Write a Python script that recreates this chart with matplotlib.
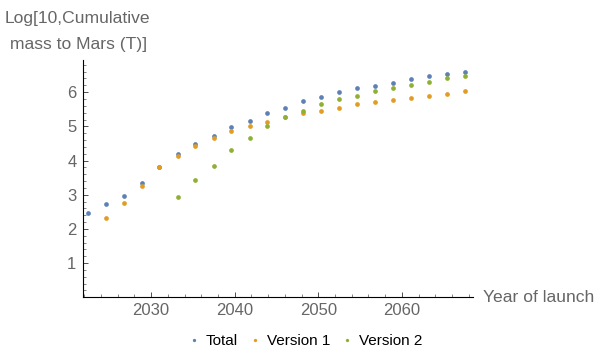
import matplotlib.pyplot as plt
from matplotlib.ticker import MultipleLocator

# launch windows (year) and log10 of cumulative mass to Mars (tonnes)
years = [2022.5, 2024.6, 2026.8, 2028.9, 2031.0, 2033.2, 2035.3, 2037.5,
         2039.6, 2041.8, 2043.9, 2046.0, 2048.2, 2050.3, 2052.5, 2054.6,
         2056.8, 2058.9, 2061.1, 2063.2, 2065.4, 2067.5]

total = [2.48, 2.72, 2.95, 3.33, 3.80, 4.19, 4.47, 4.73, 4.97, 5.17, 5.38,
         5.55, 5.73, 5.87, 5.99, 6.11, 6.19, 6.28, 6.37, 6.46, 6.54, 6.60]
version1 = [2.31, 2.77, 3.26, 3.80, 4.14, 4.43, 4.66, 4.85, 5.00, 5.14,
            5.26, 5.38, 5.46, 5.55, 5.64, 5.70, 5.78, 5.84, 5.90, 5.96, 6.02]
version2 = [2.92, 3.42, 3.85, 4.32, 4.67, 5.00, 5.26, 5.45, 5.64, 5.79,
            5.90, 6.02, 6.13, 6.22, 6.31, 6.40, 6.46]

v1_years = years[1:]
v2_years = years[5:]

labels = ['Total', 'Version 1', 'Version 2']
colors = ['#5E81B5', '#E19C24', '#8FB032']

plt.rcParams['font.family'] = ['Liberation Sans', 'DejaVu Sans']
gray = '#666666'

fig = plt.figure(figsize=(6.1, 3.53), dpi=100)
ax = fig.add_axes([0.1366, 0.1578, 0.6388, 0.6722])

ax.plot(years, total, 'o', ms=3.4, mew=0, color=colors[0], label=labels[0])
ax.plot(v1_years, version1, 'o', ms=3.4, mew=0, color=colors[1], label=labels[1])
ax.plot(v2_years, version2, 'o', ms=3.4, mew=0, color=colors[2], label=labels[2])

ax.set_xlim(2021.9, 2068.5)
ax.set_ylim(0, 6.94)

ax.spines['top'].set_visible(False)
ax.spines['right'].set_visible(False)
for s in ['left', 'bottom']:
    ax.spines[s].set_linewidth(0.8)
    ax.spines[s].set_color('black')

ax.xaxis.set_minor_locator(MultipleLocator(2))
ax.yaxis.set_minor_locator(MultipleLocator(0.2))
ax.set_xticks([2030, 2040, 2050, 2060])
ax.set_yticks([1, 2, 3, 4, 5, 6])

ax.tick_params(which='major', direction='in', length=3.5, width=0.6,
               labelsize=12, labelcolor=gray, color='#333333')
ax.tick_params(which='minor', direction='in', length=2, width=0.5,
               color='#555555')
ax.tick_params(axis='y', which='major', pad=5)
ax.tick_params(axis='x', which='major', pad=4)

fig.text(5 / 610, 1 - 18 / 353, 'Log[10,Cumulative', fontsize=12.6,
         color=gray, va='center', ha='left')
fig.text(5 / 610, 1 - 45 / 353, ' mass to Mars (T)]', fontsize=12.6,
         color=gray, va='center', ha='left')
fig.text(483 / 610, 1 - 298 / 353, 'Year of launch', fontsize=12.6,
         color=gray, va='center', ha='left')

fig.legend(loc='center', bbox_to_anchor=(306 / 610, 1 - 341 / 353), ncol=3,
           frameon=False, fontsize=11, markerscale=0.7, handlelength=0.6,
           handletextpad=0.5, columnspacing=0.8)

plt.savefig('out.png', dpi=100)
